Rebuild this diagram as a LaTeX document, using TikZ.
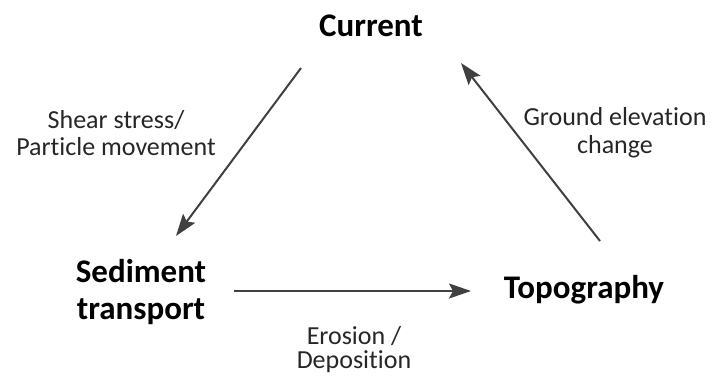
\documentclass[tikz,border=0pt]{standalone}
\usepackage{fontspec}
\setmainfont{Carlito}[RawFeature=-liga]
\usetikzlibrary{arrows.meta}
\definecolor{arrowgray}{HTML}{404040}
\definecolor{textgray}{HTML}{262626}
\begin{document}
\begin{tikzpicture}[x=1pt,y=-1pt,
  mainlabel/.style={font=\fontsize{33}{37}\selectfont\bfseries, text=black, align=center, inner sep=0pt},
  edgelabel/.style={font=\fontsize{26}{27}\selectfont, text=textgray, align=center, inner sep=0pt},
  link/.style={draw=arrowgray, line width=2pt, -{Stealth[length=22pt,width=15pt,inset=4pt]}}]
\useasboundingbox (0,0) rectangle (713,376);
\node[mainlabel, anchor=base] (current) at (371,36) {Current};
\node[mainlabel] (sediment) at (141,292) {Sediment\\transport};
\node[mainlabel, anchor=base] (topo) at (584,298) {Topography};
\node[edgelabel] (shear) at (116,133) {Shear stress/\\Particle movement};
\node[edgelabel, font=\fontsize{26}{28}\selectfont] (ground) at (615,133) {Ground elevation\\change};
\node[edgelabel, font=\fontsize{26}{24}\selectfont] (erosion) at (354,350) {Erosion /\\Deposition};
\coordinate (a1s) at (301,68);
\coordinate (a1e) at (176,236);
\coordinate (a2s) at (234,291);
\coordinate (a2e) at (471,291);
\coordinate (a3s) at (600,241);
\coordinate (a3e) at (461,63);
\draw[link] (a1s) -- (a1e);
\draw[link] (a2s) -- (a2e);
\draw[link] (a3s) -- (a3e);
\end{tikzpicture}
\end{document}
